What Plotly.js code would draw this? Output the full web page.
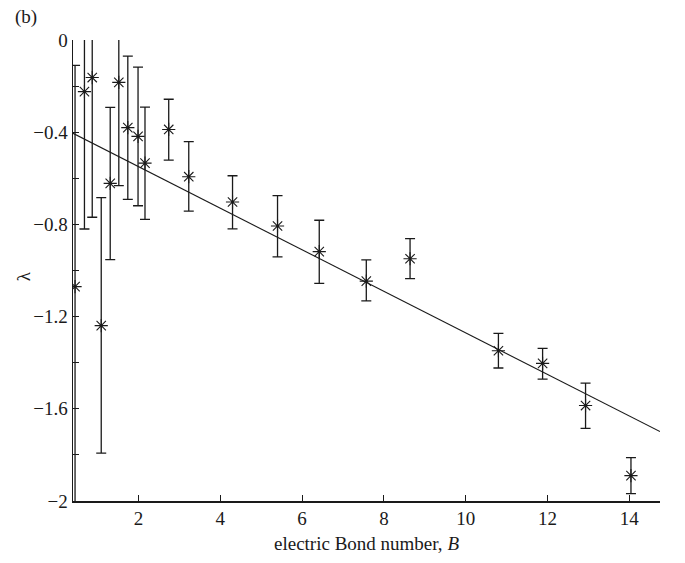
<!DOCTYPE html>
<html>
<head>
<meta charset="utf-8">
<script src="https://cdn.plot.ly/plotly-3.0.1.min.js"></script>
<style>html,body{margin:0;padding:0;background:#fff;}#chart{width:685px;height:563px;}</style>
</head>
<body>
<div id="chart"></div>
<script>
// Measured data (electric Bond number B vs growth rate lambda)
const bondNumber = [0.45, 0.68, 0.87, 1.09, 1.31, 1.52, 1.74, 1.99, 2.16, 2.74,
                    3.23, 4.30, 5.40, 6.42, 7.57, 8.64, 10.80, 11.88, 12.93, 14.04];
const lambdaVals = [-1.07, -0.224, -0.163, -1.239, -0.622, -0.184, -0.380, -0.418, -0.534, -0.388,
                    -0.593, -0.703, -0.807, -0.918, -1.046, -0.949, -1.348, -1.403, -1.586, -1.890];
const errUpper   = [0.96, 0.60, 0.61, 0.555, 0.33, 0.45, 0.31, 0.30, 0.243, 0.131,
                    0.152, 0.114, 0.132, 0.136, 0.092, 0.087, 0.075, 0.065, 0.097, 0.078];
const errLower   = [0.96, 0.596, 0.606, 0.553, 0.331, 0.448, 0.311, 0.301, 0.244, 0.133,
                    0.149, 0.116, 0.134, 0.138, 0.086, 0.086, 0.075, 0.068, 0.099, 0.078];
// Fitted straight line (end points)
const fitB = [0.4, 14.75];
const fitLambda = [-0.405, -1.699];

const xTicks = [2, 4, 6, 8, 10, 12, 14];
const yTicks = [0, -0.4, -0.8, -1.2, -1.6, -2];
const yTickText = ['0', '\u22120.4', '\u22120.8', '\u22121.2', '\u22121.6', '\u22122'];

const ink = '#1a1a1a';
const FAM = 'Liberation Serif, Times New Roman, serif';
function f(size) { return {family: FAM, size: size, color: ink}; }

const traces = [
  {
    x: fitB, y: fitLambda, type: 'scatter', mode: 'lines',
    line: {color: ink, width: 1.1}, hoverinfo: 'skip', showlegend: false
  },
  {
    x: bondNumber, y: lambdaVals, type: 'scatter', mode: 'markers',
    marker: {symbol: 'asterisk-open', size: 11, color: ink, line: {color: ink, width: 1.1}},
    error_y: {type: 'data', symmetric: false, array: errUpper, arrayminus: errLower,
              color: ink, thickness: 1.3, width: 5},
    showlegend: false
  }
];

const layout = {
  width: 685, height: 563,
  margin: {l: 73, r: 25, t: 40, b: 62},
  paper_bgcolor: '#fff', plot_bgcolor: '#fff',
  font: f(19),
  showlegend: false,
  xaxis: {
    range: [0.4, 14.75], tickvals: xTicks, ticktext: xTicks.map(String),
    ticks: 'inside', ticklen: 6, tickwidth: 1, tickcolor: ink,
    showline: true, linecolor: ink, linewidth: 1.5, mirror: false,
    showgrid: false, zeroline: false, automargin: false,
    tickfont: f(19),
    title: {text: 'electric Bond number, <i>B</i>', font: f(19), standoff: 8}
  },
  yaxis: {
    range: [-2, 0], tickvals: yTicks, ticktext: yTickText,
    ticks: 'inside', ticklen: 6, tickwidth: 1, tickcolor: ink,
    minor: {tickvals: [-0.2, -0.6, -1.0, -1.4, -1.8], ticks: 'inside', ticklen: 6, tickcolor: ink, showgrid: false},
    showline: true, linecolor: ink, linewidth: 1.5, mirror: false,
    showgrid: false, zeroline: false, automargin: false,
    tickfont: f(19)
  },
  annotations: [
    {text: '(b)', xref: 'paper', yref: 'paper', x: -0.103, y: 1.05,
     xanchor: 'left', yanchor: 'middle', showarrow: false, font: f(19)},
    {text: '\u03bb', xref: 'paper', yref: 'paper', x: -0.085, y: 0.488,
     xanchor: 'center', yanchor: 'middle', textangle: -90, showarrow: false, font: f(19)}
  ]
};

Plotly.newPlot('chart', traces, layout, {displayModeBar: false, staticPlot: true});
</script>
</body>
</html>
